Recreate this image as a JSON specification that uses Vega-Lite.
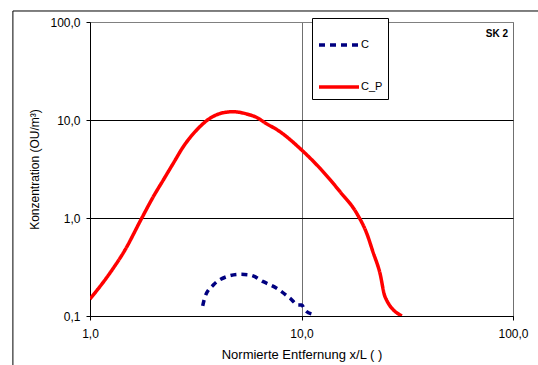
{
  "$schema": "https://vega.github.io/schema/vega-lite/v6.json",
  "width": 423,
  "height": 294,
  "autosize": "none",
  "padding": {"left": 90, "top": 22, "right": 25, "bottom": 49},
  "background": "white",
  "config": {
    "font": "Liberation Sans",
    "view": {"stroke": "#808080", "strokeWidth": 1}
  },
  "title": {
    "text": "SK 2",
    "anchor": "end",
    "frame": "group",
    "orient": "top",
    "fontSize": 10,
    "fontWeight": "bold",
    "color": "black",
    "baseline": "top",
    "offset": 0,
    "dx": -5,
    "dy": 29
  },
  "layer": [
    {
      "data": {
        "values": [
          {"series": "C_P", "x": 1.0, "y": 0.149},
          {"series": "C_P", "x": 1.243, "y": 0.275},
          {"series": "C_P", "x": 1.464, "y": 0.472},
          {"series": "C_P", "x": 1.755, "y": 0.993},
          {"series": "C_P", "x": 1.992, "y": 1.649},
          {"series": "C_P", "x": 2.221, "y": 2.442},
          {"series": "C_P", "x": 2.476, "y": 3.615},
          {"series": "C_P", "x": 2.761, "y": 5.34},
          {"series": "C_P", "x": 3.195, "y": 7.91},
          {"series": "C_P", "x": 3.693, "y": 10.41},
          {"series": "C_P", "x": 4.268, "y": 11.87},
          {"series": "C_P", "x": 4.759, "y": 12.15},
          {"series": "C_P", "x": 5.507, "y": 11.51},
          {"series": "C_P", "x": 6.248, "y": 10.41},
          {"series": "C_P", "x": 6.598, "y": 9.61},
          {"series": "C_P", "x": 7.91, "y": 7.6},
          {"series": "C_P", "x": 10.02, "y": 4.94},
          {"series": "C_P", "x": 12.23, "y": 3.215},
          {"series": "C_P", "x": 15.21, "y": 1.855},
          {"series": "C_P", "x": 18.24, "y": 1.117},
          {"series": "C_P", "x": 20.34, "y": 0.698},
          {"series": "C_P", "x": 21.78, "y": 0.45},
          {"series": "C_P", "x": 23.5, "y": 0.273},
          {"series": "C_P", "x": 24.83, "y": 0.157},
          {"series": "C_P", "x": 29.8, "y": 0.1},
          {"series": "C", "x": 3.411, "y": 0.1265},
          {"series": "C", "x": 3.498, "y": 0.157},
          {"series": "C", "x": 3.828, "y": 0.207},
          {"series": "C", "x": 4.43, "y": 0.252},
          {"series": "C", "x": 5.12, "y": 0.266},
          {"series": "C", "x": 5.71, "y": 0.262},
          {"series": "C", "x": 6.598, "y": 0.224},
          {"series": "C", "x": 7.63, "y": 0.192},
          {"series": "C", "x": 8.82, "y": 0.152},
          {"series": "C", "x": 9.66, "y": 0.1295},
          {"series": "C", "x": 10.02, "y": 0.1295},
          {"series": "C", "x": 10.39, "y": 0.115},
          {"series": "C", "x": 11.17, "y": 0.105}
        ]
      },
      "mark": {"type": "line", "strokeWidth": 3.5, "clip": true, "interpolate": "monotone"},
      "encoding": {
        "x": {
          "field": "x",
          "type": "quantitative",
          "scale": {"type": "log", "domain": [1, 100], "nice": false},
          "axis": {
            "values": [1, 10, 100],
            "labelExpr": "replace(format(datum.value, '.1f'), '.', ',')",
            "title": "Normierte Entfernung x/L ( )",
            "grid": true,
            "gridColor": "#707070",
            "gridWidth": 1,
            "domainColor": "black",
            "tickColor": "black",
            "tickSize": 4,
            "labelFontSize": 12,
            "labelColor": "black",
            "labelPadding": 8,
            "labelFlush": false,
            "titleFontSize": 13,
            "titleFontWeight": "normal",
            "titleColor": "black",
            "titlePadding": 9
          }
        },
        "y": {
          "field": "y",
          "type": "quantitative",
          "scale": {"type": "log", "domain": [0.1, 100], "nice": false},
          "axis": {
            "values": [0.1, 1, 10, 100],
            "labelExpr": "replace(format(datum.value, '.1f'), '.', ',')",
            "title": "Konzentration (OU/m³)",
            "grid": true,
            "gridColor": {"condition": {"test": "datum.value >= 100", "value": "#808080"}, "value": "black"},
            "gridWidth": 1,
            "domainColor": "black",
            "tickColor": "black",
            "tickSize": 4,
            "labelFontSize": 12,
            "labelColor": "black",
            "labelPadding": 6,
            "labelFlush": false,
            "titleFontSize": 12,
            "titleFontWeight": "normal",
            "titleColor": "black",
            "titlePadding": 8
          }
        },
        "color": {
          "field": "series",
          "type": "nominal",
          "scale": {"domain": ["C", "C_P"], "range": ["#000080", "#FF0000"]},
          "legend": {
            "orient": "none",
            "legendX": 222,
            "legendY": -4,
            "title": null,
            "strokeColor": "black",
            "fillColor": "white",
            "padding": 5,
            "symbolType": "stroke",
            "symbolSize": 1600,
            "symbolStrokeWidth": 3.5,
            "labelFontSize": 11,
            "labelColor": "black",
            "labelOffset": 0,
            "rowPadding": 13
          }
        },
        "strokeDash": {
          "field": "series",
          "type": "nominal",
          "scale": {"domain": ["C", "C_P"], "range": [[6, 5], [1, 0]]},
          "legend": {
            "orient": "none",
            "legendX": 222,
            "legendY": -4,
            "title": null,
            "strokeColor": "black",
            "fillColor": "white",
            "padding": 5,
            "symbolType": "stroke",
            "symbolSize": 1600,
            "symbolStrokeWidth": 3.5,
            "labelFontSize": 11,
            "labelColor": "black",
            "labelOffset": 0,
            "rowPadding": 13
          }
        }
      }
    },
    {
      "data": {"values": [{}]},
      "mark": {"type": "rule", "color": "black", "strokeWidth": 1},
      "encoding": {
        "x": {"datum": 0.432, "type": "quantitative"},
        "x2": {"datum": 140},
        "y": {"datum": 129.5, "type": "quantitative"}
      }
    },
    {
      "data": {"values": [{}]},
      "mark": {"type": "rule", "color": "black", "strokeWidth": 1},
      "encoding": {
        "x": {"datum": 0.432, "type": "quantitative"},
        "y": {"datum": 129.5, "type": "quantitative"},
        "y2": {"datum": 0.03}
      }
    }
  ]
}
